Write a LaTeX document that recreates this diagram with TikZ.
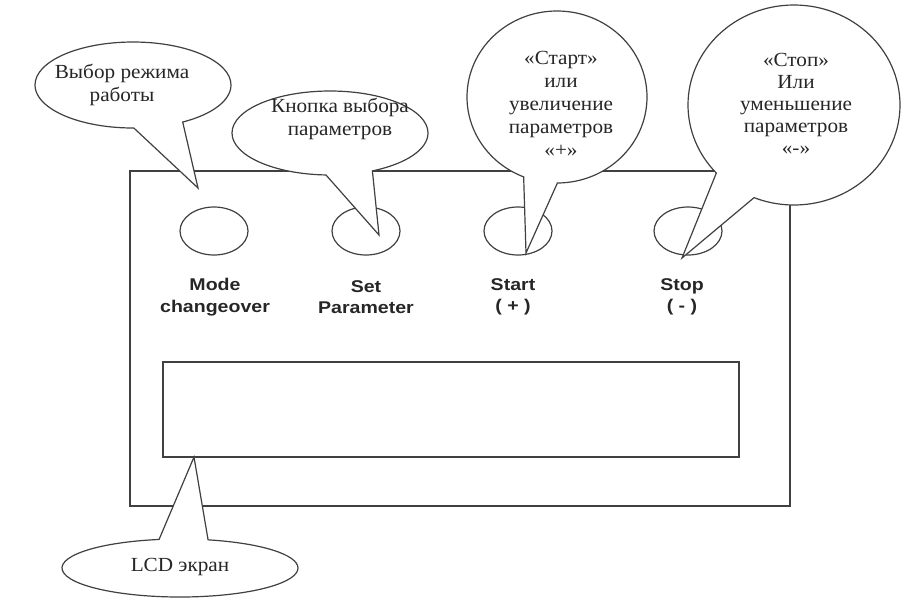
\documentclass[tikz,border=0pt]{standalone}
\usepackage{fontspec}
\setmainfont{Liberation Serif}[FakeStretch=1.06]
\newfontfamily\btnfont{Liberation Sans}[FakeStretch=1.15]
\usetikzlibrary{shapes.geometric}
\usetikzlibrary{shapes.callouts}

\begin{document}
\begin{tikzpicture}[x=1pt,y=-1pt,
    frame/.style={draw=black!75,line width=1.2pt},
    btn/.style={ellipse,draw=black!75,line width=1.2pt,minimum width=68pt,minimum height=48pt,inner sep=0pt},
    lbl/.style={font=\btnfont\bfseries\fontsize{17}{21.5}\selectfont,text=black!85,align=center,inner sep=0pt},
    bubble/.style={ellipse callout,draw=black!75,fill=white,line width=1.2pt,inner sep=0pt},
    note/.style={font=\fontsize{20}{23}\selectfont,text=black!85,align=center,inner sep=0pt}]
    \useasboundingbox (0,0) rectangle (904,598);
    % panel and screen
    \draw[frame] (130,171) rectangle (790,506);
    \draw[frame] (163,362) rectangle (739,457);
    % keys
    \node[btn] (mode) at (214,231) {};
    \node[btn] (set) at (366,231) {};
    \node[btn] (start) at (518,231) {};
    \node[btn] (stop) at (688,231) {};
    \node[lbl] (modelbl) at (215,297) {Mode\\changeover};
    \node[lbl] (setlbl) at (366,297) {Set\\Parameter};
    \node[lbl] (startlbl) at (513,297) {Start\\( + )};
    \node[lbl] (stoplbl) at (682,297) {Stop\\( - )};
    % callouts
    \node[bubble,minimum width=196pt,minimum height=86pt,
      callout absolute pointer={(198,188)},callout pointer arc=30] (modebub) at (133,85) {};
    \node[note] (modetxt) at (122,85) {Выбор режима\\работы};
    \node[bubble,minimum width=196pt,minimum height=84pt,
      callout absolute pointer={(379,235)},callout pointer arc=28] (setbub) at (330,133) {};
    \node[note] (settxt) at (340,119) {Кнопка выбора\\параметров};
    \node[bubble,minimum width=180pt,minimum height=172pt,
      callout absolute pointer={(526,253)},callout pointer arc=22] (startbub) at (557,97) {};
    \node[note] (starttxt) at (561,104) {«Старт»\\или\\увеличение\\параметров\\«+»};
    \node[bubble,minimum width=212pt,minimum height=200pt,
      callout absolute pointer={(682,258)},callout pointer arc=25] (stopbub) at (794,105) {};
    \node[note,font=\fontsize{20}{22}\selectfont] (stoptxt) at (796,104) {«Стоп»\\Или\\уменьшение\\параметров\\«-»};
    \node[bubble,minimum width=236pt,minimum height=58pt,
      callout absolute pointer={(194,457)},callout pointer arc=24] (lcdbub) at (180,568) {};
    \node[note] (lcdtxt) at (180,567) {LCD экран};
\end{tikzpicture}
\end{document}
